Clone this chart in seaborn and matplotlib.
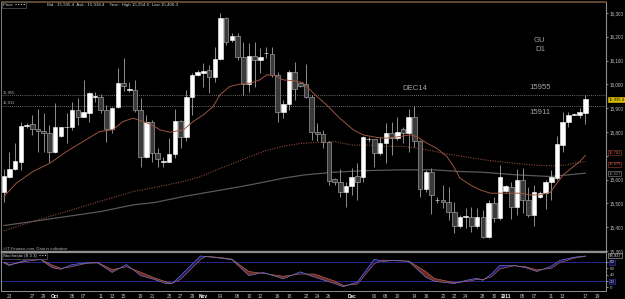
"""
GBPUSD daily chart (GU D1) with moving averages and a Stochastic (8 3 3) panel.
Saves out.png.
"""

import matplotlib

matplotlib.use('Agg')
import matplotlib.pyplot as plt
import matplotlib.transforms as mtransforms
import numpy as np
import seaborn as sns

sns.set_style("dark", {"axes.facecolor": "black", "figure.facecolor": "black"})
plt.rcParams['font.family'] = ['Liberation Sans', 'DejaVu Sans']

# ---- candles (one per trading day, oldest first) ----
opens = [15547, 15613, 15645, 15676, 15824, 15833, 15812, 15805, 15795, 15715,
         15785, 15819, 15823, 15892, 15865, 15879, 15949, 15948, 15892, 15813,
         15903, 16005, 15976, 15978, 15892, 15697, 15843, 15711, 15676, 15676,
         15707, 15847, 15777, 15945, 16040, 16047, 16061, 16029, 16107, 16278,
         16187, 16205, 16113, 16001, 16121, 16104, 16131, 16127, 16040, 15886,
         15917, 16051, 16005, 16002, 15945, 15802, 15792, 15757, 15602, 15592,
         15550, 15574, 15616, 15609, 15770, 15770, 15711, 15753, 15795, 15774,
         15812, 15795, 15862, 15763, 15561, 15631, 15515, 15515, 15505, 15466,
         15407, 15445, 15445, 15407, 15445, 15357, 15501, 15438, 15554, 15571,
         15487, 15599, 15515, 15452, 15525, 15543, 15589, 15606, 15746, 15844,
         15872, 15872, 15879]
highs = [15645, 15718, 15753, 15844, 15837, 15872, 15896, 15878, 15830, 15921,
         15823, 15879, 15925, 15942, 16019, 15967, 15970, 15959, 15914, 15907,
         16068, 16110, 16012, 16019, 15942, 15872, 15851, 15732, 15697, 15774,
         15897, 15851, 15977, 16047, 16061, 16089, 16082, 16159, 16298, 16284,
         16215, 16215, 16180, 16173, 16180, 16152, 16159, 16159, 16054, 15935,
         16061, 16093, 16012, 16085, 15956, 15837, 15809, 15763, 15606, 15645,
         15592, 15648, 15669, 15785, 15781, 15771, 15781, 15837, 15841, 15865,
         15819, 15897, 15911, 15767, 15641, 15648, 15529, 15578, 15571, 15508,
         15452, 15480, 15483, 15480, 15473, 15515, 15529, 15662, 15578, 15592,
         15645, 15648, 15571, 15578, 15553, 15599, 15641, 15785, 15886, 15886,
         15879, 15900, 15955]
lows = [15508, 15606, 15641, 15641, 15816, 15788, 15718, 15718, 15676, 15711,
        15781, 15753, 15809, 15830, 15862, 15844, 15925, 15879, 15760, 15795,
        15900, 15973, 15970, 15886, 15655, 15690, 15676, 15655, 15655, 15673,
        15690, 15732, 15763, 15872, 16036, 15991, 15963, 16012, 16103, 16166,
        16180, 16103, 15956, 15970, 15991, 16047, 16110, 16033, 15844, 15858,
        15893, 15935, 15991, 15942, 15767, 15763, 15732, 15578, 15578, 15529,
        15483, 15536, 15515, 15592, 15760, 15655, 15704, 15669, 15704, 15767,
        15753, 15718, 15739, 15529, 15550, 15455, 15501, 15480, 15431, 15375,
        15396, 15396, 15382, 15396, 15354, 15354, 15424, 15431, 15550, 15435,
        15452, 15459, 15445, 15406, 15522, 15477, 15515, 15599, 15718, 15823,
        15872, 15858, 15833]
closes = [15616, 15645, 15679, 15827, 15830, 15812, 15805, 15795, 15715, 15822,
          15819, 15823, 15892, 15865, 15882, 15962, 15951, 15893, 15812, 15901,
          16005, 15994, 15981, 15893, 15697, 15843, 15711, 15687, 15679, 15708,
          15847, 15777, 15945, 16040, 16051, 16058, 16029, 16107, 16278, 16180,
          16205, 16113, 16001, 16121, 16104, 16117, 16133, 16040, 15886, 15917,
          16051, 15981, 15995, 15945, 15802, 15792, 15757, 15595, 15592, 15550,
          15575, 15610, 15592, 15777, 15771, 15711, 15754, 15795, 15774, 15802,
          15795, 15862, 15763, 15561, 15631, 15536, 15516, 15505, 15466, 15407,
          15445, 15446, 15407, 15445, 15357, 15501, 15438, 15610, 15574, 15487,
          15599, 15515, 15452, 15547, 15543, 15592, 15609, 15749, 15844, 15872,
          15875, 15882, 15938]

# ---- moving averages, read at candle positions ----
ma_fast_x = [0, 2.2, 5.1, 8.1, 11, 13.9, 16.8, 19.1, 20.9, 22.7, 24.4, 26, 27.4,
             29.1, 31.5, 33.2, 35, 36.7, 37.9, 39.6, 41.4, 43.2, 44.9, 46.1,
             47.5, 49, 50.8, 52.4, 54.3, 56.6, 58.9, 61.3, 63, 65.4, 67.1, 69.5,
             71.2, 72.4, 74.2, 75.9, 77.7, 79, 80, 81.8, 83.5, 85.3, 87, 88.8,
             90.5, 92.3, 94, 95.8, 97, 98.1, 99.9, 101, 102]
ma_fast = [15529, 15585, 15634, 15669, 15718, 15760, 15802, 15809, 15844, 15858,
           15844, 15830, 15809, 15799, 15809, 15844, 15872, 15907, 15956, 15991,
           16001, 16005, 16019, 16040, 16037, 16019, 16015, 16008, 15963, 15914,
           15858, 15809, 15788, 15777, 15774, 15781, 15788, 15781, 15753, 15732,
           15697, 15650, 15606, 15578, 15557, 15543, 15543, 15543, 15543, 15536,
           15536, 15546, 15585, 15620, 15655, 15676, 15702]
ma_mid_x = [0, 5, 11, 17, 22.7, 26, 31.5, 34.4, 37.3, 40.2, 43.2, 46, 49, 52, 55,
            58, 61, 64, 67, 70, 73, 75.3, 78, 81, 84, 87, 90, 93, 96, 98, 100, 102]
ma_mid = [15385, 15424, 15466, 15510, 15550, 15565, 15592, 15612, 15641, 15668,
          15697, 15722, 15740, 15752, 15756, 15760, 15745, 15745, 15740, 15740,
          15730, 15720, 15706, 15696, 15684, 15675, 15668, 15661, 15658, 15660,
          15668, 15676]
ma_slow_x = [0, 5, 11, 17, 22.7, 26.5, 31.5, 37.3, 43.2, 49, 52.8, 57.8, 63.7,
             69.5, 75.3, 80, 84, 89.9, 95.8, 102]
ma_slow = [15407, 15424, 15445, 15466, 15494, 15504, 15529, 15553, 15578, 15606,
           15620, 15631, 15638, 15641, 15641, 15634, 15631, 15620, 15613, 15627]

# ---- stochastic (8 3 3) ----
stoch_x = [0, 1, 4, 6.5, 8.5, 10, 12, 14.5, 16.5, 19, 21.5, 24, 26, 28.5, 29.5,
           31, 34.5, 35.5, 38, 40, 43, 45.5, 49, 52, 54.5, 58, 59.5, 62, 65,
           66.5, 68.5, 71, 74, 75.5, 79, 81, 83, 84, 85.5, 87, 89.5, 91.5, 93.5,
           96, 97.5, 100, 102]
stoch_k = [77, 69, 87, 87, 62, 57, 72, 77, 77, 47, 72, 37, 27, 12, 12, 37, 99, 97,
           92, 87, 37, 47, 27, 49, 32, 12, 2, 17, 89, 82, 85, 82, 32, 19, 12, 22,
           29, 22, 42, 69, 69, 62, 50, 67, 85, 95, 99]
stoch_d = [80, 72, 82, 88, 70, 60, 65, 76, 78, 56, 65, 48, 33, 17, 13, 25, 88, 98,
           94, 89, 50, 44, 35, 42, 42, 20, 6, 10, 75, 86, 84, 83, 50, 28, 15, 18,
           25, 25, 33, 58, 68, 65, 55, 60, 78, 92, 98]

# ---- axes text ----
date_ticks = [1, 5, 7, 9, 12, 14, 17, 19, 21, 24, 26, 29, 31, 33, 35, 38, 41, 43,
              45, 48, 50, 53, 55, 57, 61, 65, 67, 69, 72, 74, 77, 79, 81, 84, 86,
              88, 91, 93, 96, 98, 102, 104]
date_labels = ['23', '27', '29', 'Oct', '05', '07', '11', '13', '15', '19', '21',
               '25', '27', '29', 'Nov', '04', '08', '10', '12', '16', '18', '22',
               '24', '26', 'Dec', '06', '08', '10', '14', '16', '20', '22', '24',
               '28', '30', '2011', '05', '07', '11', '13', '17', '19']
month_labels = ['Oct', 'Nov', 'Dec', '2011']
price_ticks = [15300, 15400, 15500, 15600, 15700, 15800, 15900, 16000, 16100,
               16200, 16300]
# 15,700 sits behind the moving-average value boxes, as on the original
price_labels = ['15,300', '15,400', '15,500', '15,600', '', '15,800', '15,900',
                '16,000', '16,100', '16,200', '16,300']
stoch_ticks = [0, 20, 40, 60, 80]
levels = [15955, 15911]

GRAY = '#8c8c8c'
TXT = '#c4c4c4'


def right_box(ax, y, text, fc, ec, tc, dy=0):
    tr = mtransforms.blended_transform_factory(ax.transAxes, ax.transData)
    tr = mtransforms.offset_copy(tr, fig=ax.figure, y=dy, units='points')
    ax.text(1.004, y, text, transform=tr, fontsize=3.0, color=tc, va='center',
            ha='left', clip_on=False,
            bbox=dict(boxstyle='square,pad=0.12', fc=fc, ec=ec, lw=0.4))


def draw_price(ax):
    o, h, l, c = map(np.array, (opens, highs, lows, closes))
    idx = np.arange(len(c))
    up = c >= o
    ax.vlines(idx, l, h, color='#a4a4a4', lw=0.6, zorder=3)
    ax.bar(idx[~up], (c - o)[~up], bottom=o[~up], width=0.8, color='#3a3a3a',
           edgecolor='#9a9a9a', lw=0.5, zorder=4)
    ax.bar(idx[up], (c - o)[up], bottom=o[up], width=0.8, color='white',
           edgecolor='white', lw=0.4, zorder=4)

    sns.lineplot(x=ma_slow_x, y=ma_slow, ax=ax, color='#595959', lw=0.9,
                 estimator=None, zorder=2)
    sns.lineplot(x=ma_mid_x, y=ma_mid, ax=ax, color='#8a4a38', lw=0.8,
                 linestyle=(0, (1, 1.2)), estimator=None, zorder=2)
    sns.lineplot(x=ma_fast_x, y=ma_fast, ax=ax, color='#9c5440', lw=0.7,
                 estimator=None, zorder=5)

    blend = mtransforms.blended_transform_factory(ax.transAxes, ax.transData)
    for lv in levels:
        ax.axhline(lv, color=GRAY, lw=0.6, ls=(0, (1, 1.5)), zorder=1)
        ax.text(0.002, lv + 4, f"{lv:,}", transform=blend, fontsize=3,
                color='#b0b0b0', va='bottom', ha='left')

    ax.set_xlim(-0.4, 105.6)
    ax.set_ylim(15296, 16346)
    ax.set_xticks([])
    ax.yaxis.tick_right()
    ax.set_yticks(price_ticks, labels=price_labels)
    ax.tick_params(axis='y', labelsize=3.3, colors=TXT, length=1.5, width=0.5,
                   pad=1)
    ax.set_xlabel('')
    ax.set_ylabel('')

    # notes on the chart
    kw = dict(transform=ax.transAxes, fontsize=5.6, color='#a0a0a0',
              va='center', ha='left')
    ax.text(0.881, 0.844, 'GU', **kw)
    ax.text(0.883, 0.811, 'D1', **kw)
    ax.text(0.6637, 0.655, 'DEC14', **kw)
    ax.text(0.8726, 0.659, '15955', **kw)
    ax.text(0.8726, 0.559, '15911', **kw)

    ax.text(0.002, 0.988, 'Price  \u25aa \u25aa \u25aa \u25aa', transform=ax.transAxes,
            fontsize=3.2, color='#d0d0d0', va='center', ha='left',
            bbox=dict(boxstyle='square,pad=0.25', fc='black', ec='#707070', lw=0.4))
    ax.text(0.0753, 0.988,
            'Bid : 15,935.4  Ask : 15,938.4    Year : High 15,954.6  Low 15,406.3',
            transform=ax.transAxes, fontsize=3.2, color='#d0d0d0', va='center',
            ha='left')
    ax.text(0.002, 0.012, '\u00a9IT-Finance.com, Data is indicative',
            transform=ax.transAxes, fontsize=3, color='#b0b0b0', va='center',
            ha='left')

    right_box(ax, closes[-1], '15,935.4', '#e2c400', '#e2c400', 'black')
    right_box(ax, ma_fast[-1], f"{ma_fast[-1]:,}", 'black', '#a04030', '#d06050',
              dy=1.8)
    right_box(ax, ma_mid[-1], f"{ma_mid[-1]:,}", 'black', '#a04030', '#d06050',
              dy=-1.8)
    right_box(ax, ma_slow[-1], f"{ma_slow[-1]:,}", 'black', '#909090', '#909090')

    for side in ('left', 'right', 'bottom'):
        ax.spines[side].set_color('#909090')
    ax.spines['top'].set_color('#6e5634')
    ax.spines['top'].set_linewidth(1.2)
    ax.spines['bottom'].set_linewidth(1.6)
    ax.spines['left'].set_linewidth(0.6)
    ax.spines['right'].set_linewidth(0.8)


def draw_stoch(ax):
    x = np.array(stoch_x)
    k = np.array(stoch_k)
    d = np.array(stoch_d)
    ax.fill_between(x, k, d, where=k >= d, interpolate=True, color='#16166e',
                    lw=0, zorder=2)
    ax.fill_between(x, k, d, where=k < d, interpolate=True, color='#6b2b22',
                    lw=0, zorder=2)
    ax.axhline(80, color='#26268c', lw=0.7, zorder=1)
    ax.axhline(20, color='#26268c', lw=0.7, zorder=1)
    sns.lineplot(x=x, y=d, ax=ax, color='#b86a5a', lw=0.45, estimator=None,
                 zorder=3)
    sns.lineplot(x=x, y=k, ax=ax, color='#7a7ae0', lw=0.45, estimator=None,
                 zorder=3)

    ax.set_xlim(-0.4, 105.6)
    ax.set_ylim(-11.5, 111.5)
    ax.yaxis.tick_right()
    ax.set_yticks(stoch_ticks, labels=[str(v) for v in stoch_ticks])
    ax.tick_params(axis='y', labelsize=3.2, colors=TXT, length=1.5, width=0.5,
                   pad=1)
    for lbl in ax.get_yticklabels():
        if lbl.get_text() in ('20', '80'):
            lbl.set_bbox(dict(boxstyle='square,pad=0.15', fc='#10104a',
                              ec='#3a3ab0', lw=0.4))
    right_box(ax, stoch_k[-1], '98.937', 'black', '#c0c0c0', '#e0e0e0')

    ax.set_xticks(date_ticks, labels=date_labels)
    ax.tick_params(axis='x', labelsize=3.4, colors=TXT, length=1.5, width=0.5,
                   pad=1)
    for lbl in ax.get_xticklabels():
        if lbl.get_text() in month_labels:
            lbl.set_fontweight('bold')
            lbl.set_color('white')
    ax.set_xlabel('')
    ax.set_ylabel('')

    ax.text(0.002, 0.905, 'Stochastic (8 3 3)  \u25aa \u25aa \u25aa',
            transform=ax.transAxes, fontsize=3.2, color='#d0d0d0', va='center',
            ha='left', zorder=6,
            bbox=dict(boxstyle='square,pad=0.25', fc='black', ec='#707070', lw=0.4))

    for side in ('left', 'right', 'bottom', 'top'):
        ax.spines[side].set_color('#909090')
        ax.spines[side].set_linewidth(0.7)
    ax.spines['top'].set_linewidth(1.6)


def main():
    fig = plt.figure(figsize=(6.25, 2.99), dpi=100, facecolor='black')
    ax_price = fig.add_axes([1.5 / 625, 1 - 252 / 299, 604.5 / 625, 250 / 299])
    ax_stoch = fig.add_axes([1.5 / 625, 1 - 291 / 299, 604.5 / 625, 39 / 299])
    for a in (ax_price, ax_stoch):
        a.set_facecolor('black')
        a.grid(False)

    draw_price(ax_price)
    draw_stoch(ax_stoch)

    fig.savefig('out.png', dpi=100, facecolor='black')
    plt.close(fig)
    print("saved out.png")


if __name__ == "__main__":
    main()
